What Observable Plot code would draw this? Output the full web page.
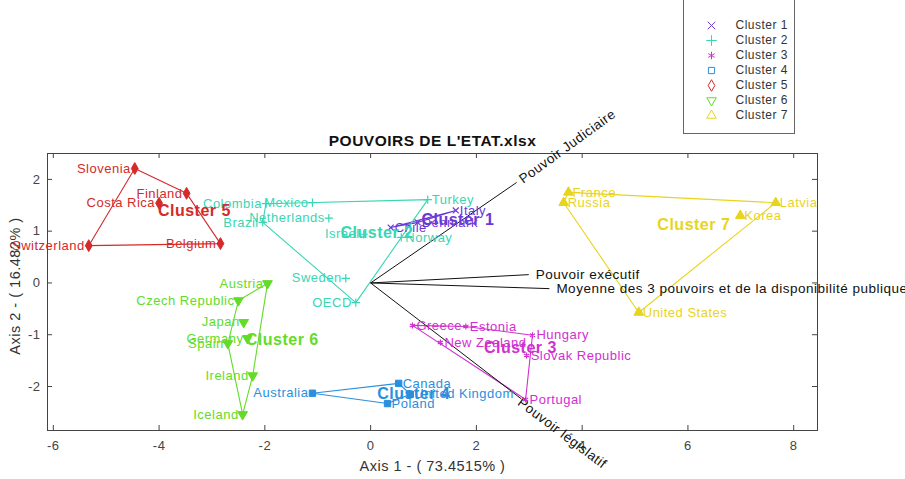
<!DOCTYPE html>
<html><head><meta charset="utf-8">
<script src="https://cdn.jsdelivr.net/npm/d3@7"></script>
<script src="https://cdn.jsdelivr.net/npm/@observablehq/plot@0.6"></script>
<style>
body{margin:0;background:#fff;}
#wrap{position:relative;width:905px;height:479px;overflow:hidden;font-family:"Liberation Sans",Arial,sans-serif;background:#fff;}
#chart{position:absolute;left:0;top:0;}
#legend{position:absolute;left:683px;top:-2px;width:110px;height:134px;border:1px solid #666;background:#fff;}
</style></head><body>
<div id="wrap"><div id="chart"></div><div id="legend"></div></div>
<script>
// ---- data ----
const clusters = ["Cluster 1","Cluster 2","Cluster 3","Cluster 4","Cluster 5","Cluster 6","Cluster 7"];
const clusterColors = ["#6a3ad6","#38d6b4","#d030d0","#2a8fdc","#d42a2a","#62dc26","#e8d41c"];

const countries = [
  "Chile","Denmark","Italy",
  "Colombia","Mexico","Netherlands","Brazil","Turkey","Israel","Norway","Sweden","OECD",
  "Greece","Estonia","Hungary","New Zealand","Slovak Republic","Portugal",
  "Australia","Canada","Poland","United Kingdom",
  "Slovenia","Finland","Costa Rica","Switzerland","Belgium",
  "Austria","Czech Republic","Japan","Germany","Spain","Ireland","Iceland",
  "France","Russia","Latvia","Korea","United States"
];
const countryCluster = [
  "Cluster 1","Cluster 1","Cluster 1",
  "Cluster 2","Cluster 2","Cluster 2","Cluster 2","Cluster 2","Cluster 2","Cluster 2","Cluster 2","Cluster 2",
  "Cluster 3","Cluster 3","Cluster 3","Cluster 3","Cluster 3","Cluster 3",
  "Cluster 4","Cluster 4","Cluster 4","Cluster 4",
  "Cluster 5","Cluster 5","Cluster 5","Cluster 5","Cluster 5",
  "Cluster 6","Cluster 6","Cluster 6","Cluster 6","Cluster 6","Cluster 6","Cluster 6",
  "Cluster 7","Cluster 7","Cluster 7","Cluster 7","Cluster 7"
];
const axis1 = [
  0.38, 0.89, 1.61,
  -1.98, -1.10, -0.79, -2.04, 1.08, -0.13, 0.58, -0.47, -0.28,
  0.79, 1.80, 3.06, 1.32, 2.95, 2.93,
  -1.10, 0.53, 0.32, 0.75,
  -4.46, -3.48, -4.00, -5.33, -2.84,
  -1.95, -2.50, -2.40, -2.33, -2.70, -2.23, -2.42,
  3.74, 3.65, 7.66, 6.99, 5.07
];
const axis2 = [
  1.07, 1.17, 1.40,
  1.53, 1.55, 1.25, 1.17, 1.61, 0.94, 0.88, 0.09, -0.38,
  -0.82, -0.84, -1.01, -1.15, -1.40, -2.25,
  -2.13, -1.94, -2.33, -2.15,
  2.21, 1.73, 1.54, 0.72, 0.76,
  -0.01, -0.34, -0.76, -1.07, -1.17, -1.79, -2.54,
  1.75, 1.55, 1.55, 1.30, -0.57
];

const variables = ["Pouvoir Judiciaire","Pouvoir exécutif","Moyenne des 3 pouvoirs et de la disponibilité publique","Pouvoir législatif"];
const varAxis1 = [2.76, 2.99, 3.38, 2.85];
const varAxis2 = [1.94, 0.16, -0.11, -2.24];

const xTicks = [-6,-4,-2,0,2,4,6,8];
const yTicks = [-2,-1,0,1,2];
const title = "POUVOIRS DE L'ETAT.xlsx";
const xLabel = "Axis 1 - ( 73.4515% )";
const yLabel = "Axis 2 - ( 16.482% )";

// ---- derived tables ----
const points = countries.map((name,i)=>({name, cluster: countryCluster[i], x: axis1[i], y: axis2[i]}));
const hull = clusters.flatMap(c => {
  const pts = points.filter(p => p.cluster === c).map(p => [p.x, p.y]);
  const h = d3.polygonHull(pts) || pts;
  return [...h, h[0]].map(([x,y]) => ({cluster: c, x, y}));
});
const centroids = clusters.map(c => {
  const pts = points.filter(p => p.cluster === c);
  return {cluster: c, x: d3.mean(pts, p => p.x), y: d3.mean(pts, p => p.y)};
});
const vectors = variables.map((name,i)=>({name, x: varAxis1[i], y: varAxis2[i]}));
const lineSymbols = clusters.slice(0, 3);

const sqrt3 = Math.sqrt(3);
const triangleDown = {draw(ctx, size){
  const h = Math.sqrt(size/(sqrt3*3));
  ctx.moveTo(0, 2*h); ctx.lineTo(-sqrt3*h, -h); ctx.lineTo(sqrt3*h, -h); ctx.closePath();
}};
const symbolScale = {domain: clusters, range: ["times","plus","asterisk","square","diamond",triangleDown,"triangle"]};
const colorScale = {domain: clusters, range: clusterColors};

const W = 905, H = 479, mT = 153, mB = 49, mL = 47, mR = 88;
const innerW = W - mL - mR, innerH = H - mT - mB;
const font = "'Liberation Sans', Arial, sans-serif";
const fmt = d => String(d);

const chart = Plot.plot({
  width: W, height: H,
  marginTop: mT, marginBottom: mB, marginLeft: mL, marginRight: mR,
  style: {fontFamily: font, fontSize: "13px", letterSpacing: "0.5px", background: "#fff", overflow: "visible"},
  x: {domain: [-6.11, 8.45]},
  y: {domain: [-2.85, 2.5]},
  color: colorScale,
  symbol: symbolScale,
  marks: [
    Plot.frame({stroke: "#444"}),
    Plot.tickX(xTicks, {x: d => d, insetTop: innerH - 5, stroke: "#444"}),
    Plot.tickX(xTicks, {x: d => d, insetBottom: innerH - 5, stroke: "#444"}),
    Plot.tickY(yTicks, {y: d => d, insetRight: innerW - 5, stroke: "#444"}),
    Plot.tickY(yTicks, {y: d => d, insetLeft: innerW - 5, stroke: "#444"}),
    Plot.axisX({ticks: xTicks, tickFormat: fmt, tickSize: 0, tickPadding: 10, label: null, fill: "#444", fontSize: 13}),
    Plot.axisY({ticks: yTicks, tickFormat: fmt, tickSize: 0, tickPadding: 7, label: null, fill: "#444", fontSize: 13}),
    Plot.text([xLabel], {frameAnchor: "bottom", textAnchor: "middle", lineAnchor: "middle", dy: 36, fill: "#333", fontSize: 14.5}),
    Plot.text([yLabel], {frameAnchor: "left", textAnchor: "middle", lineAnchor: "middle", dx: -32, dy: -6, rotate: -90, fill: "#333", fontSize: 14.5}),
    Plot.text([title], {frameAnchor: "top", textAnchor: "middle", lineAnchor: "middle", dy: -12, fontWeight: "bold", fontSize: 15.5, fill: "#111"}),
    Plot.line(hull, {x: "x", y: "y", z: "cluster", stroke: "cluster", strokeWidth: 1.1}),
    Plot.link(vectors, {x1: 0, y1: 0, x2: "x", y2: "y", stroke: "#111", strokeWidth: 1}),
    Plot.text(vectors.filter(v => v.name === "Pouvoir Judiciaire"), {x: "x", y: "y", text: "name", textAnchor: "start", rotate: -36, dx: 4, dy: -2, fill: "#111", fontSize: 13.5}),
    Plot.text(vectors.filter(v => v.name === "Pouvoir législatif"), {x: "x", y: "y", text: "name", textAnchor: "start", rotate: 37, dx: -2, dy: 2, fill: "#111", fontSize: 13.5}),
    Plot.text(vectors.filter(v => v.name !== "Pouvoir Judiciaire" && v.name !== "Pouvoir législatif"), {x: "x", y: "y", text: "name", textAnchor: "start", dx: 7, fill: "#111", fontSize: 13.5}),
    Plot.dot(points.filter(p => lineSymbols.includes(p.cluster)), {x: "x", y: "y", symbol: "cluster", stroke: "cluster", r: 2.8, strokeWidth: 1.2}),
    Plot.dot(points.filter(p => !lineSymbols.includes(p.cluster)), {x: "x", y: "y", symbol: "cluster", stroke: "cluster", fill: "cluster", r: 3.6, strokeWidth: 1}),
    Plot.text(points.filter(p => p.x < 0), {x: "x", y: "y", text: "name", fill: "cluster", textAnchor: "end", dx: -4, fontSize: 13}),
    Plot.text(points.filter(p => p.x >= 0), {x: "x", y: "y", text: "name", fill: "cluster", textAnchor: "start", dx: 4, fontSize: 13}),
    Plot.text(centroids, {x: "x", y: "y", text: "cluster", fill: "cluster", textAnchor: "start", fontWeight: "bold", fontSize: 16})
  ]
});
document.getElementById("chart").appendChild(chart);

const legend = Plot.plot({
  width: 110, height: 134, margin: 0,
  style: {fontFamily: font, fontSize: "12px", letterSpacing: "0.5px", background: "transparent"},
  y: {type: "point", domain: clusters, range: [16, 125], axis: null},
  color: colorScale,
  symbol: symbolScale,
  marks: [
    Plot.dot(clusters, {y: d => d, frameAnchor: "left", dx: 27, symbol: d => d, stroke: d => d, fill: "none", r: 3.5, strokeWidth: 1}),
    Plot.text(clusters, {y: d => d, frameAnchor: "left", dx: 51, text: d => d, textAnchor: "start", fill: "#333", fontSize: 12})
  ]
});
document.getElementById("legend").appendChild(legend);
</script>
</body></html>
